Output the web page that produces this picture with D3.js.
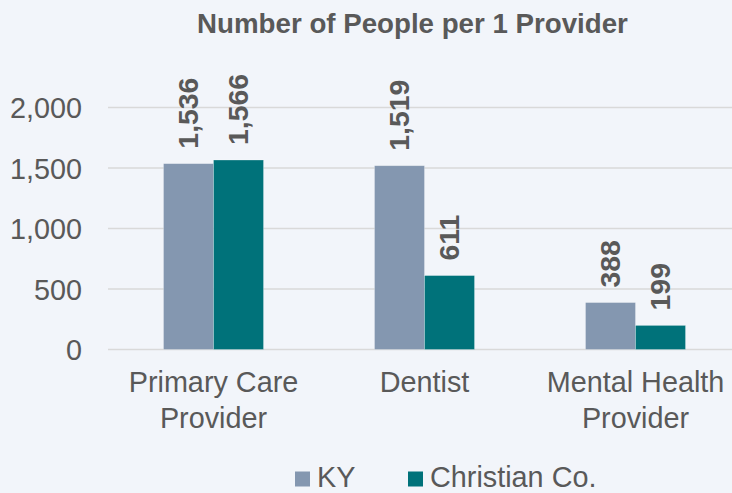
<!DOCTYPE html>
<html>
<head>
<meta charset="utf-8">
<script src="https://cdn.jsdelivr.net/npm/d3@7"></script>
<style>
  html, body { margin: 0; padding: 0; background: #F2F5FA; }
  svg { display: block; font-family: "Liberation Sans", Arial, sans-serif; }
</style>
</head>
<body>
<svg id="chart" width="732" height="493"></svg>
<script>
const title = "Number of People per 1 Provider";
const categories = [["Primary Care", "Provider"], ["Dentist"], ["Mental Health", "Provider"]];
const seriesNames = ["KY", "Christian Co."];
const kyValues = [1536, 1519, 388];
const christianValues = [1566, 611, 199];
const yTicks = [0, 500, 1000, 1500, 2000];
const colors = ["#8497B0", "#00727A"];

const W = 732, H = 493;
const svg = d3.select("#chart");
svg.append("rect").attr("width", W).attr("height", H).attr("fill", "#F2F5FA");

const catKeys = categories.map(c => c.join(" "));
const x = d3.scaleBand().domain(catKeys).range([108, 741]).paddingInner(0.526).paddingOuter(0.263);
const xs = d3.scaleBand().domain(seriesNames).range([0, x.bandwidth()]).padding(0);
const y = d3.scaleLinear().domain([0, 2000]).range([349.5, 107.5]);

// gridlines
svg.append("g").selectAll("line").data(yTicks).join("line")
  .attr("x1", 108).attr("x2", W)
  .attr("y1", d => y(d)).attr("y2", d => y(d))
  .attr("stroke", "#D9D9D9").attr("stroke-width", 1.5);

// y axis
const yAxis = d3.axisLeft(y).tickValues(yTicks).tickFormat(d3.format(",")).tickSize(0).tickPadding(0);
const gy = svg.append("g").attr("transform", "translate(82,0)").call(yAxis);
gy.select(".domain").remove();
gy.selectAll("text").attr("fill", "#595959").style("font-size", "28.8px").attr("dy", "0.35em");

// bars
const series = [kyValues, christianValues];
const rows = [];
catKeys.forEach((c, i) => seriesNames.forEach((s, j) => rows.push({ cat: c, s, v: series[j][i], color: colors[j] })));

const gBars = svg.append("g");
gBars.selectAll("rect").data(rows).join("rect")
  .attr("x", d => x(d.cat) + xs(d.s))
  .attr("width", xs.bandwidth())
  .attr("y", d => y(d.v))
  .attr("height", d => y(0) - y(d.v))
  .attr("fill", d => d.color)
  .attr("stroke", "#ffffff").attr("stroke-opacity", 0.35).attr("stroke-width", 0.75);

// data labels
gBars.selectAll("text").data(rows).join("text")
  .attr("transform", d => `translate(${x(d.cat) + xs(d.s) + xs.bandwidth() / 2},${y(d.v) - 15}) rotate(-90)`)
  .attr("dy", "0.35em")
  .attr("text-anchor", "start")
  .attr("fill", "#595959")
  .style("font-size", "28.4px").style("font-weight", "bold")
  .text(d => d3.format(",")(d.v));

// x category labels
const gx = svg.append("g");
categories.forEach((lines, i) => {
  const t = gx.append("text")
    .attr("x", x(catKeys[i]) + x.bandwidth() / 2)
    .attr("y", 392)
    .attr("text-anchor", "middle")
    .attr("fill", "#595959")
    .style("font-size", "28.8px");
  lines.forEach((ln, k) => {
    t.append("tspan").attr("x", x(catKeys[i]) + x.bandwidth() / 2).attr("dy", k === 0 ? 0 : 36).text(ln);
  });
});

// title
svg.append("text").attr("x", 412.5).attr("y", 33)
  .attr("text-anchor", "middle").attr("fill", "#595959")
  .style("font-size", "27.7px").style("font-weight", "bold")
  .text(title);

// legend
const legendX = [295, 408];
const leg = svg.append("g");
seriesNames.forEach((s, j) => {
  leg.append("rect").attr("x", legendX[j]).attr("y", 471.5).attr("width", 15).attr("height", 15).attr("fill", colors[j]);
  leg.append("text").attr("x", legendX[j] + 22).attr("y", 487)
    .attr("fill", "#595959").style("font-size", "28.8px").text(s);
});
</script>
</body>
</html>
